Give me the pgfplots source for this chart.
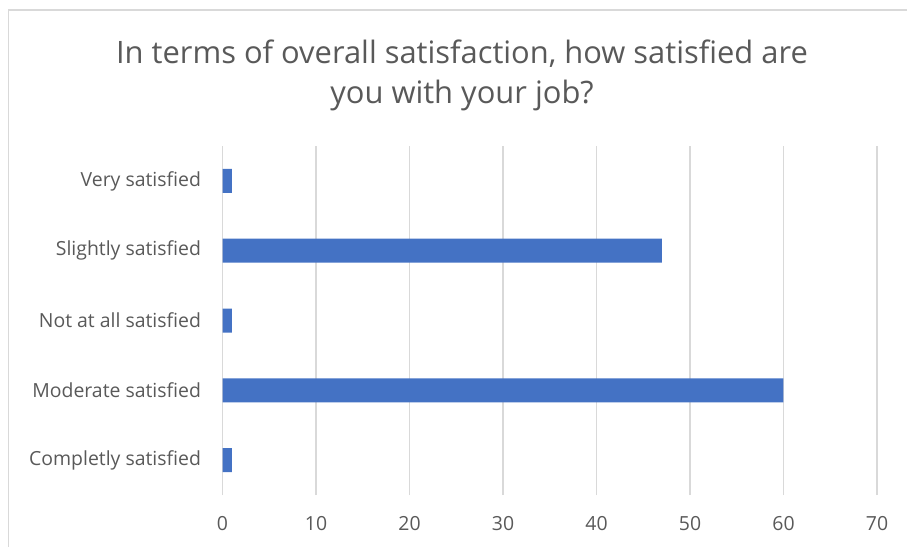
\documentclass[border=0pt]{standalone}
\usepackage{fontspec}
\setmainfont{Open Sans}
\usepackage{pgfplots}
\pgfplotsset{compat=1.18}
\definecolor{barblue}{HTML}{4472C4}
\definecolor{txt}{HTML}{595959}
\definecolor{gridgray}{HTML}{D9D9D9}
\begin{document}
\begin{tikzpicture}
\useasboundingbox (0,0) rectangle (907bp,-547bp);
\draw[gridgray, line width=1.5bp] (8.5bp,-547bp) -- (8.5bp,-10bp) -- (907bp,-10bp);
\begin{axis}[
  at={(222.5bp,-495bp)}, anchor=south west,
  scale only axis, width=654.5bp, height=349bp,
  xbar, bar width=24bp,
  xmin=0, xmax=70, ymin=-0.5, ymax=4.5,
  xtick={0,10,...,70}, ytick={0,1,2,3,4},
  yticklabels={Completly satisfied, Moderate satisfied, Not at all satisfied, Slightly satisfied, Very satisfied},
  axis line style={draw=none},
  xmajorgrids=true, ymajorgrids=false,
  major grid style={draw=gridgray, line width=1.8bp},
  major tick length=0,
  tick label style={font=\fontsize{19.5}{23}\selectfont, text=txt},
  /pgf/number format/assume math mode=true,
  xticklabel style={yshift=-18bp},
  yticklabel style={xshift=-18bp},
  clip=false,
]
\addplot[draw=none, fill=barblue] coordinates {(1,0) (60,1) (1,2) (47,3) (1,4)};
\end{axis}
\node[anchor=base, text=txt, font=\fontsize{31}{36}\selectfont] at (462bp,-63bp) {In terms of overall satisfaction, how satisfied are};
\node[anchor=base, text=txt, font=\fontsize{31}{36}\selectfont] at (462bp,-103bp) {you with your job?};
\end{tikzpicture}
\end{document}
